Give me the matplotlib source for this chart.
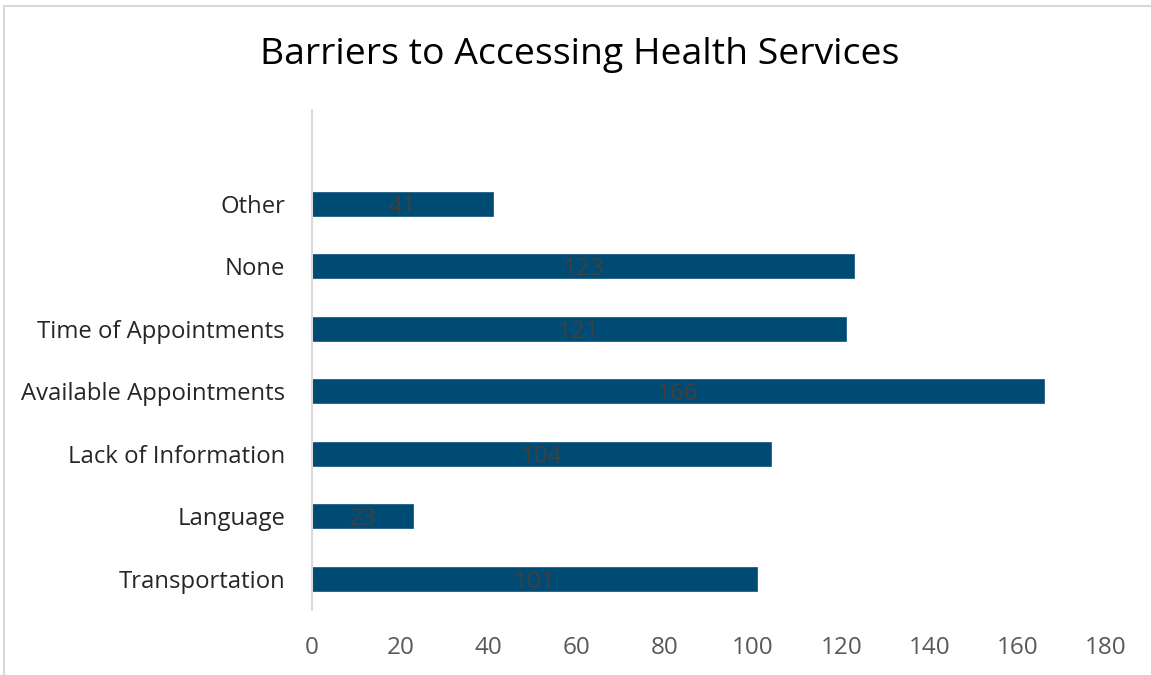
import matplotlib
matplotlib.use("Agg")
import matplotlib.pyplot as plt
from matplotlib.patches import Rectangle

categories = ["Transportation", "Language", "Lack of Information",
              "Available Appointments", "Time of Appointments", "None", "Other"]
counts = [101, 23, 104, 166, 121, 123, 41]
x_ticks = [0, 20, 40, 60, 80, 100, 120, 140, 160, 180]

plt.rcParams["font.family"] = ["Open Sans", "DejaVu Sans"]

W, H = 1151, 675
fig = plt.figure(figsize=(W / 100, H / 100), dpi=100)
fig.patch.set_facecolor("white")

# thin grey frame around the chart area
fig.add_artist(Rectangle((4 / W, -0.01), 1.05, 1 - 6 / H + 0.01,
                         transform=fig.transFigure, fill=False,
                         edgecolor="#d9d9d9", linewidth=1.5))

ax = fig.add_axes([312 / W, 1 - 610 / H, (1105.8 - 312) / W, 500 / H])

pos = list(range(len(categories)))
bars = ax.barh(pos, counts, height=0.385, color="#004B73",
               edgecolor="#1f5f85", linewidth=0.6)

for p, v in zip(pos, counts):
    ax.text(v / 2, p, str(v), ha="center", va="center_baseline",
            fontsize=17.5, color="#404040")

ax.set_ylim(-0.5, len(categories) + 0.5)
ax.set_xlim(0, 180)
ax.set_xticks(x_ticks)
ax.set_yticks(pos)
ax.set_yticklabels(categories)

for s in ["top", "right", "bottom"]:
    ax.spines[s].set_visible(False)
ax.spines["left"].set_color("#d9d9d9")
ax.spines["left"].set_linewidth(1.5)

ax.tick_params(axis="x", length=0, pad=18.5, labelsize=17.5, labelcolor="#595959")
ax.tick_params(axis="y", length=0, pad=19.4, labelsize=17.2, labelcolor="#262626")

fig.text(580 / W, 1 - 55 / H, "Barriers to Accessing Health Services",
         ha="center", va="center", fontsize=26.9, color="#000000")

fig.savefig("out.png", dpi=100, facecolor="white")
